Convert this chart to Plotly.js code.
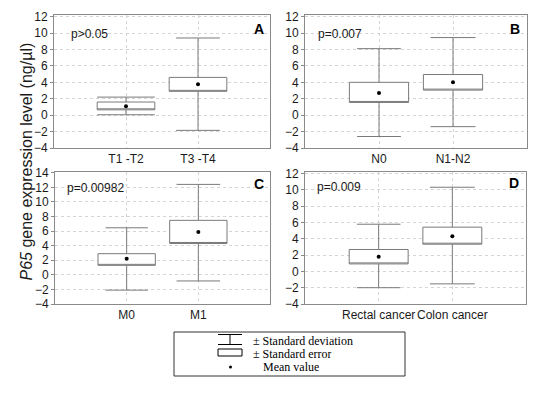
<!DOCTYPE html>
<html>
<head>
<meta charset="utf-8">
<script src="https://cdn.plot.ly/plotly-3.0.1.min.js"></script>
<style>
html,body{margin:0;padding:0;background:#fff;}
#chart{width:553px;height:396px;}
</style>
</head>
<body>
<div id="chart"></div>
<script>
// Panel categories
const catsA = ["T1 -T2", "T3 -T4"];
const catsB = ["N0", "N1-N2"];
const catsC = ["M0", "M1"];
const catsD = ["Rectal cancer", "Colon cancer"];

// Mean values
const meanA = [1.1, 3.75];
const meanB = [2.7, 4.0];
const meanC = [2.2, 5.87];
const meanD = [1.81, 4.3];

// ± Standard error (box low / high)
const seLowA = [0.65, 2.9];
const seHighA = [1.6, 4.6];
const seLowB = [1.55, 3.05];
const seHighB = [4.0, 4.95];
const seLowC = [1.3, 4.3];
const seHighC = [2.9, 7.47];
const seLowD = [0.92, 3.34];
const seHighD = [2.69, 5.43];

// ± Standard deviation (whisker low / high)
const sdLowA = [0.05, -1.85];
const sdHighA = [2.2, 9.4];
const sdLowB = [-2.6, -1.4];
const sdHighB = [8.1, 9.45];
const sdLowC = [-2.1, -0.84];
const sdHighC = [6.45, 12.4];
const sdLowD = [-2.0, -1.53];
const sdHighD = [5.79, 10.33];

const pTexts = ["p>0.05", "p=0.007", "p=0.00982", "p=0.009"];
const panelLetters = ["A", "B", "C", "D"];
const yTickVals = [-4, -2, 0, 2, 4, 6, 8, 10, 12, 14];

const panels = [
  {cats: catsA, mean: meanA, lo: seLowA, hi: seHighA, sl: sdLowA, sh: sdHighA, xa: "x", ya: "y", capw: [1.0, 0.76]},
  {cats: catsB, mean: meanB, lo: seLowB, hi: seHighB, sl: sdLowB, sh: sdHighB, xa: "x2", ya: "y2", capw: [0.74, 0.76]},
  {cats: catsC, mean: meanC, lo: seLowC, hi: seHighC, sl: sdLowC, sh: sdHighC, xa: "x3", ya: "y3", capw: [0.74, 0.76]},
  {cats: catsD, mean: meanD, lo: seLowD, hi: seHighD, sl: sdLowD, sh: sdHighD, xa: "x4", ya: "y4", capw: [0.74, 0.76]}
];

const traces = [];
panels.forEach(p => {
  p.cats.forEach((c, i) => {
    // no median in the reference: the median line is laid onto the box's lower edge
    traces.push({
      type: "box", x: [c], q1: [p.lo[i]], median: [p.lo[i] + 1e-7], q3: [p.hi[i]],
      lowerfence: [p.sl[i]], upperfence: [p.sh[i]],
      width: 0.8, whiskerwidth: p.capw[i],
      fillcolor: "#ffffff", line: {color: "#7a7a7a", width: 1},
      boxpoints: false, xaxis: p.xa, yaxis: p.ya, showlegend: false, hoverinfo: "skip"
    });
  });
  traces.push({
    type: "scatter", mode: "markers", x: p.cats, y: p.mean,
    marker: {color: "#000", size: 4}, xaxis: p.xa, yaxis: p.ya, showlegend: false, hoverinfo: "skip"
  });
});

const W = 553, H = 396;
const px = v => v / W;
const py = v => 1 - v / H;

function xax(l, r, anchor, cats) {
  return {domain: [px(l), px(r)], anchor: anchor, type: "category", categoryarray: cats,
    range: [-1, 2], showgrid: true, gridcolor: "#d4d4d4", griddash: "dot",
    showline: true, mirror: true, linecolor: "#8a8a8a", linewidth: 1,
    ticks: "", tickangle: 0, automargin: false,
    tickfont: {family: "Arial, Liberation Sans, sans-serif", size: 12, color: "#1a1a1a"},
    fixedrange: true, zeroline: false};
}
function yax(t, b, anchor, top) {
  return {domain: [py(b), py(t)], anchor: anchor, range: [-4, top],
    tickvals: yTickVals, showgrid: true, gridcolor: "#d4d4d4", griddash: "dot",
    showline: true, mirror: true, linecolor: "#8a8a8a", linewidth: 1,
    ticks: "outside", ticklen: 3, tickcolor: "#8a8a8a",
    tickfont: {family: "Arial, Liberation Sans, sans-serif", size: 12, color: "#1a1a1a"},
    zeroline: false, fixedrange: true};
}

const annFont = {family: "Arial, Liberation Sans, sans-serif", size: 12, color: "#1a1a1a"};
const annotations = [];
const pPos = [[69, 34], [316, 34], [65, 188], [315, 187]];
const lPos = [[266, 29], [522, 29], [266, 184], [521, 183]];
pTexts.forEach((t, i) => {
  annotations.push({xref: "paper", yref: "paper", x: px(pPos[i][0]), y: py(pPos[i][1]),
    xanchor: "left", yanchor: "middle", text: t, showarrow: false, font: annFont});
  annotations.push({xref: "paper", yref: "paper", x: px(lPos[i][0]), y: py(lPos[i][1]),
    xanchor: "right", yanchor: "middle", text: "<b>" + panelLetters[i] + "</b>", showarrow: false,
    font: {family: "Arial, Liberation Sans, sans-serif", size: 14, color: "#000"}});
});
annotations.push({xref: "paper", yref: "paper", x: px(15), y: py(162), textangle: -90,
  text: "<i>P65</i> gene expression level (ng/µl)", showarrow: false,
  font: {family: "Arial, Liberation Sans, sans-serif", size: 16, color: "#1a1a1a"}});

const legFont = {family: "Liberation Serif, Times New Roman, serif", size: 12, color: "#000"};
annotations.push({xref: "paper", yref: "paper", x: px(252), y: py(341), xanchor: "left", yanchor: "middle",
  text: "± Standard deviation", showarrow: false, font: legFont, height: 12, borderpad: 0});
annotations.push({xref: "paper", yref: "paper", x: px(252), y: py(354), xanchor: "left", yanchor: "middle",
  text: "± Standard error", showarrow: false, font: legFont, height: 12, borderpad: 0});
annotations.push({xref: "paper", yref: "paper", x: px(262), y: py(367), xanchor: "left", yanchor: "middle",
  text: "Mean value", showarrow: false, font: legFont, height: 12, borderpad: 0});

const sl = {color: "#000", width: 1};
const shapes = [
  {type: "rect", xref: "paper", yref: "paper", x0: px(174), x1: px(405), y0: py(332), y1: py(376), line: {color: "#333", width: 1}},
  {type: "line", xref: "paper", yref: "paper", x0: px(218), x1: px(242), y0: py(334.5), y1: py(334.5), line: sl},
  {type: "line", xref: "paper", yref: "paper", x0: px(230), x1: px(230), y0: py(334.5), y1: py(344.5), line: sl},
  {type: "line", xref: "paper", yref: "paper", x0: px(218), x1: px(242), y0: py(344.5), y1: py(344.5), line: sl},
  {type: "rect", xref: "paper", yref: "paper", x0: px(218), x1: px(242), y0: py(349), y1: py(356), line: sl},
  {type: "circle", xref: "paper", yref: "paper", x0: px(229), x1: px(232), y0: py(365.5), y1: py(368.5), line: {color: "#000", width: 0}, fillcolor: "#000"}
];

const layout = {
  width: W, height: H, margin: {l: 0, r: 0, t: 0, b: 0},
  paper_bgcolor: "#fff", plot_bgcolor: "#fff", showlegend: false,
  xaxis: xax(54, 270, "y", catsA), yaxis: yax(15, 148, "x", 12.2),
  xaxis2: xax(305, 527, "y2", catsB), yaxis2: yax(15, 148, "x2", 12.2),
  xaxis3: xax(55, 270, "y3", catsC), yaxis3: yax(172, 304, "x3", 14.1),
  xaxis4: xax(305, 526, "y4", catsD), yaxis4: yax(172, 304, "x4", 12.2),
  annotations: annotations, shapes: shapes
};

Plotly.newPlot("chart", traces, layout, {staticPlot: true, displayModeBar: false});
</script>
</body>
</html>
